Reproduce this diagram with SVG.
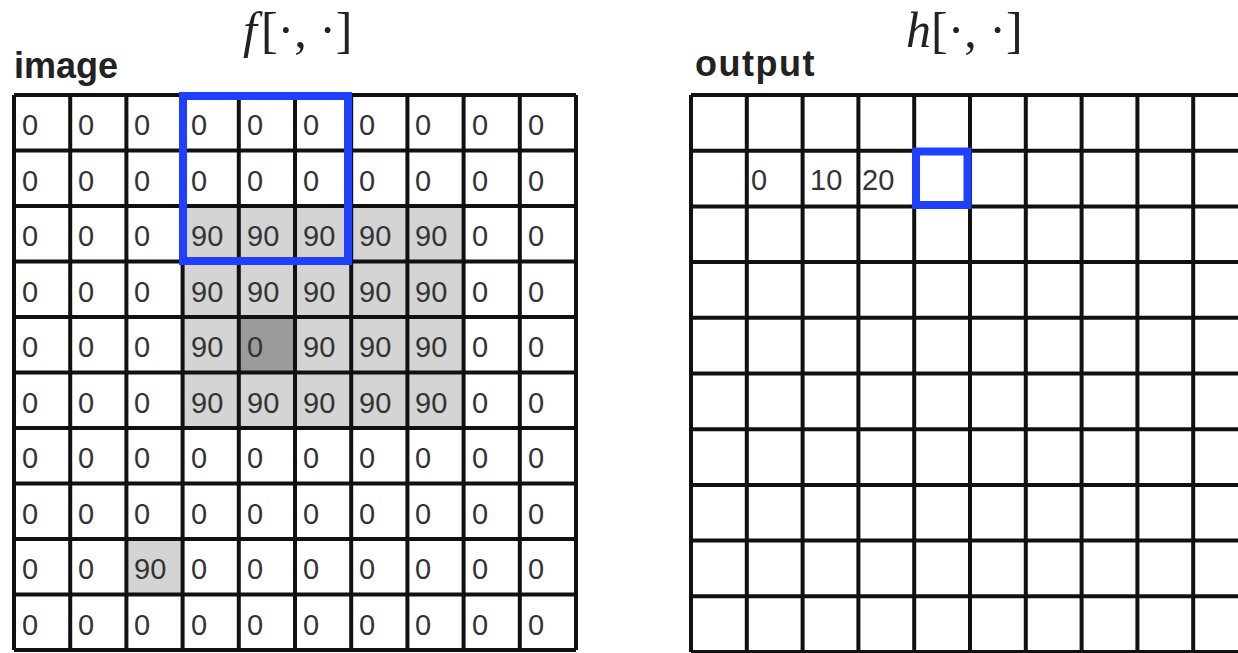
<svg xmlns="http://www.w3.org/2000/svg" width="1238" height="653" viewBox="0 0 1238 653">
<style>
.grid{fill:none;stroke:#111;stroke-width:4}
.sel{fill:none;stroke:#1f40ff;stroke-width:8}
.v{font-family:"Liberation Sans",Arial,sans-serif;font-size:29px;fill:#333}
.lbl{font-family:"Liberation Sans",Arial,sans-serif;font-size:36px;font-weight:bold;fill:#222}
.math{font-family:"Liberation Serif","Times New Roman",serif;font-size:50px;fill:#222}
.it{font-style:italic}
</style>
<rect width="1238" height="653" fill="#fff"/>
<g id="labels">
<text class="lbl" x="14" y="78">image</text>
<text class="lbl" x="695" y="76" letter-spacing="1.5">output</text>
<text class="math" x="243" y="47"><tspan class="it">f</tspan><tspan dx="4">[·, ·]</tspan></text>
<text class="math" x="906" y="47"><tspan class="it">h</tspan>[·, ·]</text>
</g>
<g id="image-grid">
<rect x="182.6" y="206" width="281" height="222" fill="#d4d4d4"/>
<rect x="238.8" y="317" width="56.2" height="55.5" fill="#9b9b9b"/>
<rect x="126.4" y="539" width="56.2" height="55.5" fill="#d4d4d4"/>
<path class="grid" d="M14 95V650M70.2 95V650M126.4 95V650M182.6 95V650M238.8 95V650M295 95V650M351.2 95V650M407.4 95V650M463.6 95V650M519.8 95V650M576 95V650M14 95H576M14 150.5H576M14 206H576M14 261.5H576M14 317H576M14 372.5H576M14 428H576M14 483.5H576M14 539H576M14 594.5H576M14 650H576"/>
<g id="image-values">
<text class="v" x="22" y="135">0</text><text class="v" x="78" y="135">0</text><text class="v" x="134" y="135">0</text><text class="v" x="191" y="135">0</text><text class="v" x="247" y="135">0</text><text class="v" x="303" y="135">0</text><text class="v" x="359" y="135">0</text><text class="v" x="415" y="135">0</text><text class="v" x="472" y="135">0</text><text class="v" x="528" y="135">0</text>
<text class="v" x="22" y="190.5">0</text><text class="v" x="78" y="190.5">0</text><text class="v" x="134" y="190.5">0</text><text class="v" x="191" y="190.5">0</text><text class="v" x="247" y="190.5">0</text><text class="v" x="303" y="190.5">0</text><text class="v" x="359" y="190.5">0</text><text class="v" x="415" y="190.5">0</text><text class="v" x="472" y="190.5">0</text><text class="v" x="528" y="190.5">0</text>
<text class="v" x="22" y="246">0</text><text class="v" x="78" y="246">0</text><text class="v" x="134" y="246">0</text><text class="v" x="191" y="246">90</text><text class="v" x="247" y="246">90</text><text class="v" x="303" y="246">90</text><text class="v" x="359" y="246">90</text><text class="v" x="415" y="246">90</text><text class="v" x="472" y="246">0</text><text class="v" x="528" y="246">0</text>
<text class="v" x="22" y="301.5">0</text><text class="v" x="78" y="301.5">0</text><text class="v" x="134" y="301.5">0</text><text class="v" x="191" y="301.5">90</text><text class="v" x="247" y="301.5">90</text><text class="v" x="303" y="301.5">90</text><text class="v" x="359" y="301.5">90</text><text class="v" x="415" y="301.5">90</text><text class="v" x="472" y="301.5">0</text><text class="v" x="528" y="301.5">0</text>
<text class="v" x="22" y="357">0</text><text class="v" x="78" y="357">0</text><text class="v" x="134" y="357">0</text><text class="v" x="191" y="357">90</text><text class="v" x="247" y="357">0</text><text class="v" x="303" y="357">90</text><text class="v" x="359" y="357">90</text><text class="v" x="415" y="357">90</text><text class="v" x="472" y="357">0</text><text class="v" x="528" y="357">0</text>
<text class="v" x="22" y="412.5">0</text><text class="v" x="78" y="412.5">0</text><text class="v" x="134" y="412.5">0</text><text class="v" x="191" y="412.5">90</text><text class="v" x="247" y="412.5">90</text><text class="v" x="303" y="412.5">90</text><text class="v" x="359" y="412.5">90</text><text class="v" x="415" y="412.5">90</text><text class="v" x="472" y="412.5">0</text><text class="v" x="528" y="412.5">0</text>
<text class="v" x="22" y="468">0</text><text class="v" x="78" y="468">0</text><text class="v" x="134" y="468">0</text><text class="v" x="191" y="468">0</text><text class="v" x="247" y="468">0</text><text class="v" x="303" y="468">0</text><text class="v" x="359" y="468">0</text><text class="v" x="415" y="468">0</text><text class="v" x="472" y="468">0</text><text class="v" x="528" y="468">0</text>
<text class="v" x="22" y="523.5">0</text><text class="v" x="78" y="523.5">0</text><text class="v" x="134" y="523.5">0</text><text class="v" x="191" y="523.5">0</text><text class="v" x="247" y="523.5">0</text><text class="v" x="303" y="523.5">0</text><text class="v" x="359" y="523.5">0</text><text class="v" x="415" y="523.5">0</text><text class="v" x="472" y="523.5">0</text><text class="v" x="528" y="523.5">0</text>
<text class="v" x="22" y="579">0</text><text class="v" x="78" y="579">0</text><text class="v" x="134" y="579">90</text><text class="v" x="191" y="579">0</text><text class="v" x="247" y="579">0</text><text class="v" x="303" y="579">0</text><text class="v" x="359" y="579">0</text><text class="v" x="415" y="579">0</text><text class="v" x="472" y="579">0</text><text class="v" x="528" y="579">0</text>
<text class="v" x="22" y="634.5">0</text><text class="v" x="78" y="634.5">0</text><text class="v" x="134" y="634.5">0</text><text class="v" x="191" y="634.5">0</text><text class="v" x="247" y="634.5">0</text><text class="v" x="303" y="634.5">0</text><text class="v" x="359" y="634.5">0</text><text class="v" x="415" y="634.5">0</text><text class="v" x="472" y="634.5">0</text><text class="v" x="528" y="634.5">0</text>
</g>
<rect id="image-window" class="sel" x="183" y="96" width="165" height="165"/>
</g>
<g id="output-grid">
<path class="grid" d="M691 95V652M746.8 95V652M802.6 95V652M858.4 95V652M914.2 95V652M970 95V652M1025.8 95V652M1081.6 95V652M1137.4 95V652M1193.2 95V652M691 95H1250M691 150.7H1250M691 206.4H1250M691 262.1H1250M691 317.8H1250M691 373.5H1250M691 429.2H1250M691 484.9H1250M691 540.6H1250M691 596.3H1250M691 652H1250"/>
<text class="v" x="751" y="190">0</text>
<text class="v" x="810" y="190">10</text>
<text class="v" x="862" y="190">20</text>
<rect id="output-cell" class="sel" x="916" y="151.5" width="51.5" height="53.5"/>
</g>
</svg>
